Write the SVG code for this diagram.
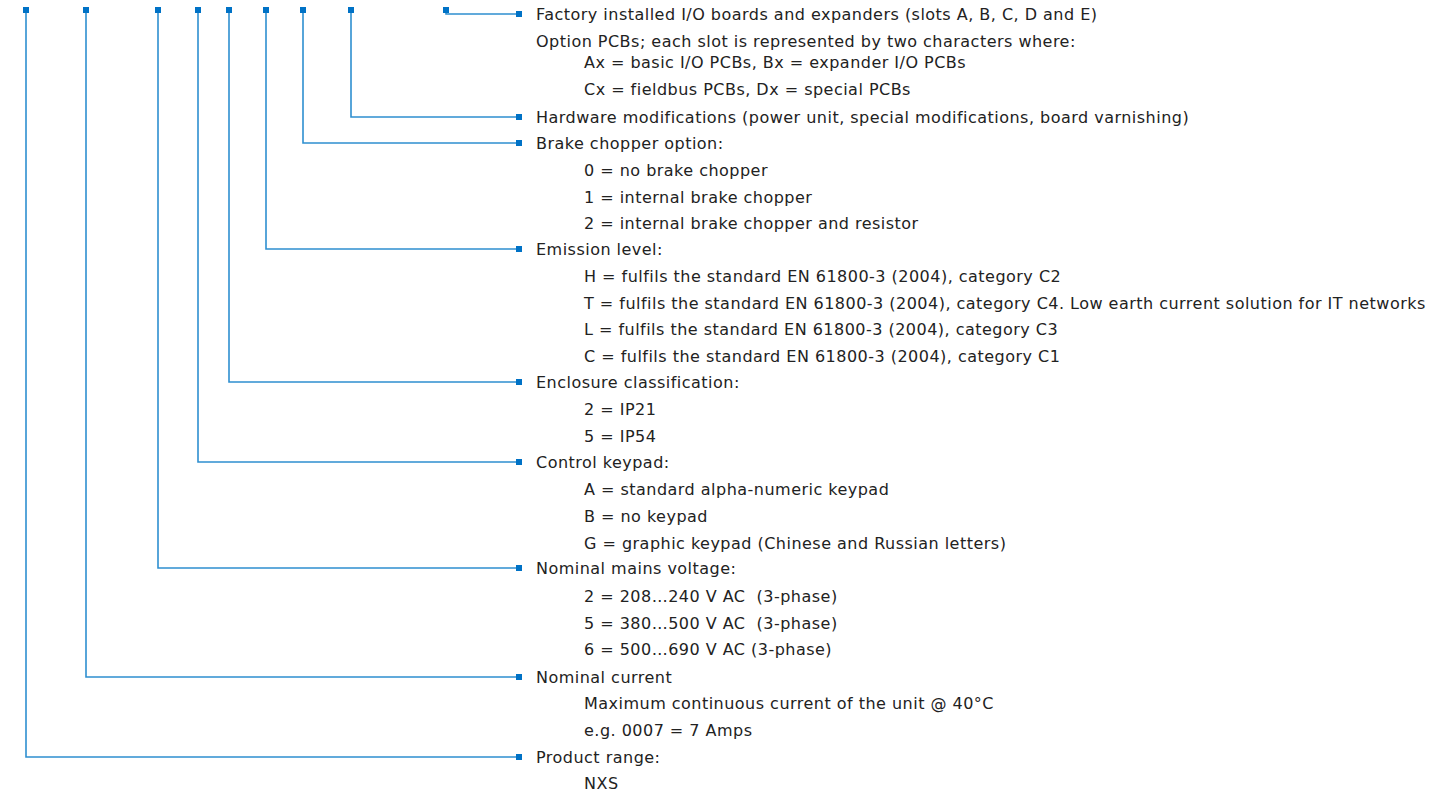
<svg xmlns="http://www.w3.org/2000/svg" width="1445" height="795" viewBox="0 0 1445 795">
<style>
text{font-family:"DejaVu Sans","Noto Sans",sans-serif;font-size:16px;letter-spacing:0.48px;fill:#222;}
.c{fill:none;stroke:#2e8fd0;stroke-width:1.6;}
.sq{fill:#0072c6;}
</style>
<rect width="1445" height="795" fill="#fff"/>
<g id="connectors">
<path class="c" d="M446,10V14H519"/>
<path class="c" d="M351,10V117H519"/>
<path class="c" d="M303,10V143H519"/>
<path class="c" d="M266,10V249H519"/>
<path class="c" d="M229,10V382H519"/>
<path class="c" d="M198,10V462H519"/>
<path class="c" d="M158,10V568H519"/>
<path class="c" d="M86,10V677H519"/>
<path class="c" d="M26,10V757H519"/>
<g class="sq">
<rect x="443" y="7" width="6" height="6"/>
<rect x="348" y="7" width="6" height="6"/>
<rect x="300" y="7" width="6" height="6"/>
<rect x="263" y="7" width="6" height="6"/>
<rect x="226" y="7" width="6" height="6"/>
<rect x="195" y="7" width="6" height="6"/>
<rect x="155" y="7" width="6" height="6"/>
<rect x="83" y="7" width="6" height="6"/>
<rect x="23" y="7" width="6" height="6"/>
<rect x="516" y="11" width="6" height="6"/>
<rect x="516" y="114" width="6" height="6"/>
<rect x="516" y="140" width="6" height="6"/>
<rect x="516" y="246" width="6" height="6"/>
<rect x="516" y="379" width="6" height="6"/>
<rect x="516" y="459" width="6" height="6"/>
<rect x="516" y="565" width="6" height="6"/>
<rect x="516" y="674" width="6" height="6"/>
<rect x="516" y="754" width="6" height="6"/>
</g>
</g>
<g id="option-boards">
<text x="536" y="20">Factory installed I/O boards and expanders (slots A, B, C, D and E)</text>
<text x="536" y="47">Option PCBs; each slot is represented by two characters where:</text>
<text x="584" y="68">Ax = basic I/O PCBs, Bx = expander I/O PCBs</text>
<text x="584" y="95">Cx = fieldbus PCBs, Dx = special PCBs</text>
</g>
<g id="hardware">
<text x="536" y="123">Hardware modifications (power unit, special modifications, board varnishing)</text>
</g>
<g id="brake">
<text x="536" y="149">Brake chopper option:</text>
<text x="584" y="176">0 = no brake chopper</text>
<text x="584" y="203">1 = internal brake chopper</text>
<text x="584" y="229">2 = internal brake chopper and resistor</text>
</g>
<g id="emission">
<text x="536" y="255">Emission level:</text>
<text x="584" y="282">H = fulfils the standard EN 61800-3 (2004), category C2</text>
<text x="584" y="309">T = fulfils the standard EN 61800-3 (2004), category C4. Low earth current solution for IT networks</text>
<text x="584" y="335">L = fulfils the standard EN 61800-3 (2004), category C3</text>
<text x="584" y="362">C = fulfils the standard EN 61800-3 (2004), category C1</text>
</g>
<g id="enclosure">
<text x="536" y="388">Enclosure classification:</text>
<text x="584" y="415">2 = IP21</text>
<text x="584" y="442">5 = IP54</text>
</g>
<g id="keypad">
<text x="536" y="468">Control keypad:</text>
<text x="584" y="495">A = standard alpha-numeric keypad</text>
<text x="584" y="522">B = no keypad</text>
<text x="584" y="549">G = graphic keypad (Chinese and Russian letters)</text>
</g>
<g id="voltage">
<text x="536" y="574">Nominal mains voltage:</text>
<text x="584" y="602">2 = 208…240 V AC &#160;(3-phase)</text>
<text x="584" y="629">5 = 380…500 V AC &#160;(3-phase)</text>
<text x="584" y="655">6 = 500…690 V AC (3-phase)</text>
</g>
<g id="current">
<text x="536" y="683">Nominal current</text>
<text x="584" y="709">Maximum continuous current of the unit @ 40°C</text>
<text x="584" y="736">e.g. 0007 = 7 Amps</text>
</g>
<g id="range">
<text x="536" y="763">Product range:</text>
<text x="584" y="789">NXS</text>
</g>
</svg>
